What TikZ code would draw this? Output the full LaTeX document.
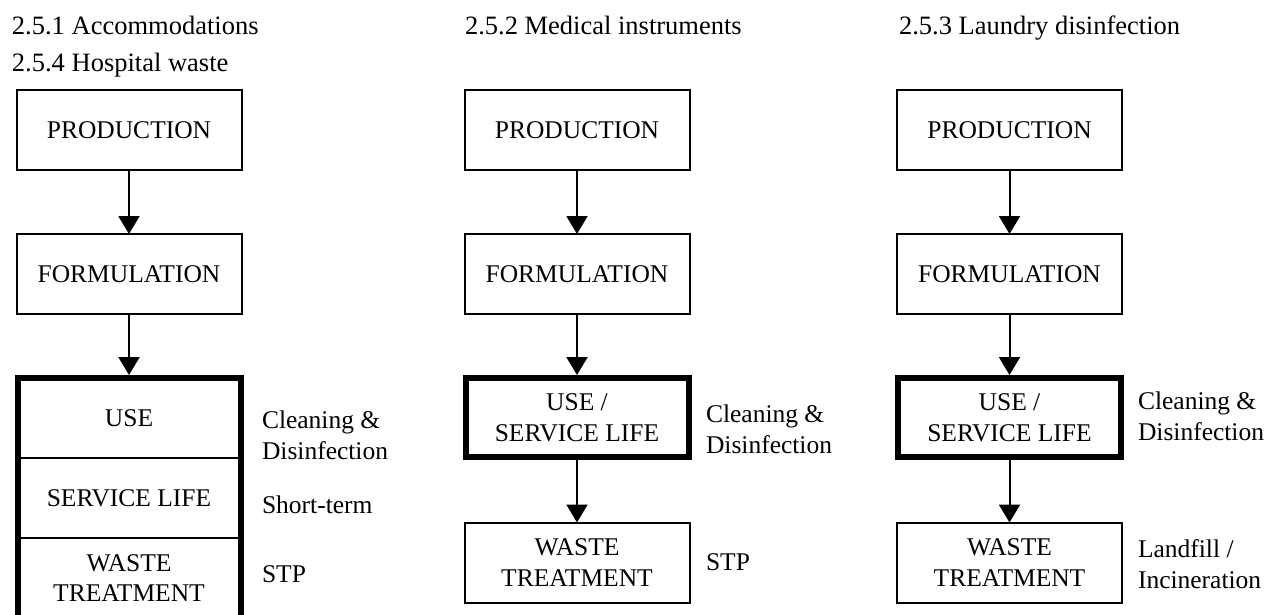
\documentclass[tikz,border=0pt]{standalone}
\usepackage{fontspec}
\setmainfont{Liberation Serif}
\usetikzlibrary{arrows.meta}
\begin{document}
\begin{tikzpicture}[x=1pt,y=-1pt,
  every node/.style={inner sep=0pt, outer sep=0pt},
  stage/.style={draw, line width=2pt, minimum width=225pt, minimum height=80pt,
    align=center, font=\fontsize{25.5}{30.5}\selectfont},
  keystage/.style={stage, line width=6pt, minimum width=223pt, minimum height=79pt},
  part/.style={stage, minimum width=223pt},
  note/.style={align=left, font=\fontsize{25.5}{30.5}\selectfont},
  heading/.style={anchor=base west, font=\fontsize{26.5}{32}\selectfont},
  flow/.style={line width=2pt, -{Triangle[width=21pt,length=18pt]}},
]
\useasboundingbox (0,0) rectangle (1271,614);
\clip (0,0) rectangle (1271,614);

% headings
\node[heading] (h1) at (12,34) {2.5.1 Accommodations};
\node[heading] (h4) at (12,71) {2.5.4 Hospital waste};
\node[heading] (h2) at (465,34) {2.5.2 Medical instruments};
\node[heading] (h3) at (899,34) {2.5.3 Laundry disinfection};

% column 1: accommodations / hospital waste
\node[stage] (prod1) at (129,130) {PRODUCTION};
\node[stage] (form1) at (129,274) {FORMULATION};
\node[part] (use1) at (129,418) {USE};
\node[part] (life1) at (129,498) {SERVICE LIFE};
\node[part] (waste1) at (129,578) {WASTE\\TREATMENT};
\draw[line width=6pt] (use1.north west) rectangle (waste1.south east);
\draw[flow] (prod1) -- (form1);
\draw[flow, shorten >=3pt] (form1.south) -- (use1.north);
\node[note, anchor=north west] (n1a) at (262,411) {Cleaning \&\\Disinfection};
\node[note, anchor=base west] (n1b) at (262,513) {Short-term};
\node[note, anchor=base west] (n1c) at (262,582) {STP};

% column 2: medical instruments
\node[stage] (prod2) at (577,130) {PRODUCTION};
\node[stage] (form2) at (577,274) {FORMULATION};
\node[keystage] (use2) at (577,417.5) {USE /\\SERVICE LIFE};
\node[stage] (waste2) at (577,562.5) {WASTE\\TREATMENT};
\draw[flow] (prod2) -- (form2);
\draw[flow, shorten >=3pt] (form2.south) -- (use2.north);
\draw[flow, shorten <=3pt] (use2.south) -- (waste2.north);
\node[note, anchor=north west] (n2a) at (706,405) {Cleaning \&\\Disinfection};
\node[note, anchor=base west] (n2b) at (706,570) {STP};

% column 3: laundry disinfection
\node[stage] (prod3) at (1009.5,130) {PRODUCTION};
\node[stage] (form3) at (1009.5,274) {FORMULATION};
\node[keystage] (use3) at (1009.5,417.5) {USE /\\SERVICE LIFE};
\node[stage] (waste3) at (1009.5,562.5) {WASTE\\TREATMENT};
\draw[flow] (prod3) -- (form3);
\draw[flow, shorten >=3pt] (form3.south) -- (use3.north);
\draw[flow, shorten <=3pt] (use3.south) -- (waste3.north);
\node[note, anchor=north west] (n3a) at (1138,392) {Cleaning \&\\Disinfection};
\node[note, anchor=north west] (n3b) at (1138,540) {Landfill /\\Incineration};
\end{tikzpicture}
\end{document}
